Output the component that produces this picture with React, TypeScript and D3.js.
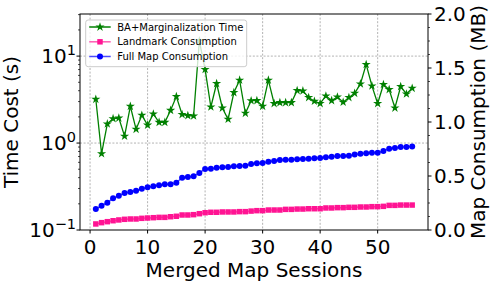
import React from 'react';
import * as d3 from 'd3';

// session index on the x axis
const sessions = d3.range(1, 57);

// BA + marginalization time (s), left log axis
const baTime = [
  3.19, 0.755, 1.66, 1.91, 1.94, 1.2, 2.65, 1.44, 2.09, 1.61,
  2.16, 1.73, 1.73, 2.38, 3.43, 2.13, 2.07, 2.05, 15, 7.02,
  2.6, 4.84, 2.53, 1.88, 3.81, 5.29, 2.2, 3.07, 3.08, 2.65,
  5.29, 2.85, 2.92, 2.92, 2.92, 4.02, 3.98, 3.34, 3.03, 2.85,
  3.48, 3.08, 3.39, 2.95, 3.34, 3.74, 4.79, 8.02, 4.54, 2.85,
  4.72, 4.13, 2.53, 4.47, 3.67, 4.27,
];

// landmark consumption (MB), right axis
const landmarkMB = [
  0.056, 0.068, 0.077, 0.086, 0.093, 0.099, 0.102, 0.102, 0.108, 0.111,
  0.114, 0.117, 0.117, 0.123, 0.127, 0.139, 0.139, 0.142, 0.151, 0.16,
  0.164, 0.164, 0.167, 0.167, 0.167, 0.17, 0.17, 0.175, 0.179, 0.179,
  0.185, 0.185, 0.185, 0.191, 0.191, 0.194, 0.194, 0.197, 0.197, 0.197,
  0.204, 0.204, 0.207, 0.207, 0.21, 0.21, 0.213, 0.213, 0.216, 0.216,
  0.219, 0.228, 0.228, 0.231, 0.231, 0.231,
];

// full map consumption (MB), right axis
const fullMapMB = [
  0.194, 0.225, 0.253, 0.293, 0.318, 0.343, 0.352, 0.364, 0.382, 0.395,
  0.405, 0.414, 0.423, 0.423, 0.438, 0.484, 0.491, 0.497, 0.528, 0.565,
  0.568, 0.577, 0.58, 0.583, 0.59, 0.593, 0.595, 0.61, 0.617, 0.62,
  0.632, 0.639, 0.648, 0.651, 0.651, 0.654, 0.657, 0.66, 0.664, 0.667,
  0.673, 0.679, 0.685, 0.685, 0.688, 0.698, 0.707, 0.71, 0.716, 0.716,
  0.731, 0.753, 0.759, 0.769, 0.769, 0.772,
];

const xTicks = [0, 10, 20, 30, 40, 50];
const leftTicks = [0.1, 1, 10];
const leftTickExp = ['\u22121', '0', '1'];
const leftMinor = [0.2, 0.3, 0.4, 0.5, 0.6, 0.7, 0.8, 0.9, 2, 3, 4, 5, 6, 7, 8, 9, 20, 30];
const rightTicks = [0, 0.5, 1, 1.5, 2];
const rightMinor = d3.range(0, 2.001, 0.125).filter((v) => v % 0.5 !== 0);
const legendLabels = ['BA+Marginalization Time', 'Landmark Consumption', 'Full Map Consumption'];

const W = 504;
const H = 288;
const left = 80, right = 428, top = 14, bottom = 230;
const FONT = 'DejaVu Sans, sans-serif';

const GREEN = '#008000';
const PINK = '#ff1493';
const BLUE = '#0000ff';

export default function App() {
  const x = d3.scaleLinear().domain([-1.75, 58.75]).range([left, right]);
  const yL = d3.scaleLog().domain([0.1, 30.5]).range([bottom, top]);
  const yR = d3.scaleLinear().domain([0, 2]).range([bottom, top]);

  const greenLine = d3.line<number>().x((_, i) => x(sessions[i])).y((d) => yL(d));
  const rightLine = d3.line<number>().x((_, i) => x(sessions[i])).y((d) => yR(d));

  const star = d3.symbol().type(d3.symbolStar).size(26)()!;
  const square = d3.symbol().type(d3.symbolSquare).size(30)()!;

  const legX = 85.7, legY = 20;
  const rowY = [27, 41.8, 56.5];

  return (
    <svg width={W} height={H} style={{ position: 'absolute', left: 0, top: 0, background: '#fff' }} fontFamily={FONT}>
      <defs>
        <clipPath id="plot">
          <rect x={left} y={top} width={right - left} height={bottom - top} />
        </clipPath>
      </defs>

      {/* grid */}
      <g stroke="#aaaaaa" strokeWidth={0.9} strokeDasharray="2,1.6">
        {xTicks.map((t) => (
          <line key={'gx' + t} x1={x(t)} x2={x(t)} y1={top} y2={bottom} />
        ))}
        {leftTicks.slice(1).map((t) => (
          <line key={'gy' + t} x1={left} x2={right} y1={yL(t)} y2={yL(t)} />
        ))}
      </g>

      <g clipPath="url(#plot)">
        <path d={greenLine(baTime)!} fill="none" stroke={GREEN} strokeWidth={1.3} />
        {baTime.map((v, i) => (
          <path key={'s' + i} d={star} transform={`translate(${x(sessions[i])},${yL(v)})`} fill={GREEN} />
        ))}
        <path d={rightLine(landmarkMB)!} fill="none" stroke={PINK} strokeOpacity={0.7} strokeWidth={1.5} />
        {landmarkMB.map((v, i) => (
          <path key={'q' + i} d={square} transform={`translate(${x(sessions[i])},${yR(v)})`} fill={PINK} />
        ))}
        <path d={rightLine(fullMapMB)!} fill="none" stroke={BLUE} strokeOpacity={0.7} strokeWidth={1.5} />
        {fullMapMB.map((v, i) => (
          <circle key={'c' + i} cx={x(sessions[i])} cy={yR(v)} r={3} fill={BLUE} />
        ))}
      </g>

      {/* frame */}
      <rect x={left} y={top} width={right - left} height={bottom - top} fill="none" stroke="#000" strokeWidth={1} />

      {/* x axis */}
      {xTicks.map((t) => (
        <g key={'xt' + t}>
          <line x1={x(t)} x2={x(t)} y1={bottom} y2={bottom + 3.5} stroke="#000" />
          <text x={x(t)} y={254} fontSize={20} textAnchor="middle">{t}</text>
        </g>
      ))}
      <text x={(left + right) / 2} y={277} fontSize={20} textAnchor="middle">Merged Map Sessions</text>

      {/* left log axis */}
      {leftMinor.map((t) => (
        <line key={'lm' + t} x1={left - 2} x2={left} y1={yL(t)} y2={yL(t)} stroke="#000" strokeWidth={0.7} />
      ))}
      {leftTicks.map((t, i) => (
        <g key={'lt' + t}>
          <line x1={left - 3.5} x2={left} y1={yL(t)} y2={yL(t)} stroke="#000" />
          <text x={left - 4} y={yL(t) + 7} fontSize={20} textAnchor="end">
            10<tspan fontSize={14.5} dy={-8}>{leftTickExp[i]}</tspan>
          </text>
        </g>
      ))}
      <text transform={`translate(18,${(top + bottom) / 2}) rotate(-90)`} fontSize={20} textAnchor="middle">Time Cost (s)</text>

      {/* right axis */}
      {rightMinor.map((t) => (
        <line key={'rm' + t} x1={right} x2={right + 2} y1={yR(t)} y2={yR(t)} stroke="#000" strokeWidth={0.7} />
      ))}
      {rightTicks.map((t) => (
        <g key={'rt' + t}>
          <line x1={right} x2={right + 3.5} y1={yR(t)} y2={yR(t)} stroke="#000" />
          <text x={right + 6} y={yR(t) + 7} fontSize={20}>{t.toFixed(1)}</text>
        </g>
      ))}
      <text transform={`translate(485,${(top + bottom) / 2}) rotate(-90)`} fontSize={20} textAnchor="middle">Map Consumption (MB)</text>

      {/* legend */}
      <rect x={legX} y={legY} width={161} height={46.7} rx={2.5} fill="#fff" fillOpacity={0.8} stroke="#cccccc" strokeWidth={1} />
      {legendLabels.map((lab, i) => {
        const cy = rowY[i];
        const color = [GREEN, PINK, BLUE][i];
        return (
          <g key={lab}>
            <line x1={legX + 3.5} x2={legX + 25} y1={cy} y2={cy} stroke={color} strokeWidth={1.5} strokeOpacity={i === 0 ? 1 : 0.7} />
            {i === 0 && <path d={star} transform={`translate(${legX + 14.3},${cy})`} fill={GREEN} />}
            {i === 1 && <path d={square} transform={`translate(${legX + 14.3},${cy})`} fill={PINK} />}
            {i === 2 && <circle cx={legX + 14.3} cy={cy} r={3} fill={BLUE} />}
            <text x={legX + 31.5} y={cy + 3.6} fontSize={10}>{lab}</text>
          </g>
        );
      })}
    </svg>
  );
}
